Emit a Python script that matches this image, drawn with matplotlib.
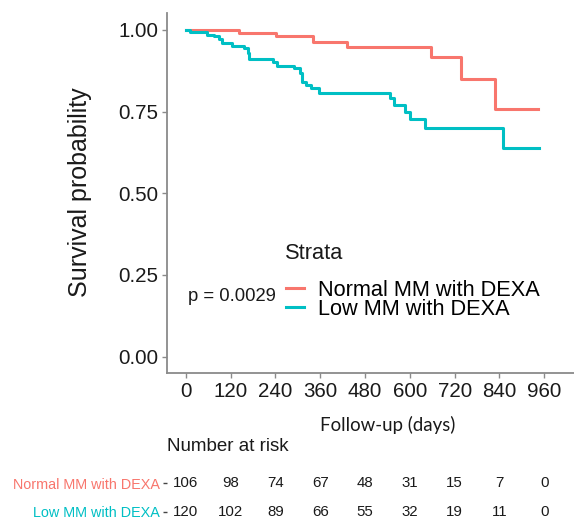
import numpy as np
import matplotlib
matplotlib.use("Agg")
import matplotlib.pyplot as plt

# Kaplan-Meier steps
normal_time = [0, 142, 242, 340, 432, 657, 737, 827, 943]
normal_surv = [1.0, 0.990, 0.982, 0.964, 0.949, 0.917, 0.849, 0.757, 0.757]

low_time = [0, 11, 58, 76, 90, 97, 124, 157, 166, 170, 233, 244, 291, 305, 312,
            323, 336, 357, 547, 559, 587, 601, 641, 849, 946]
low_surv = [1.0, 0.995, 0.985, 0.980, 0.972, 0.959, 0.951, 0.944, 0.929, 0.910,
            0.903, 0.890, 0.883, 0.867, 0.842, 0.832, 0.822, 0.808, 0.791, 0.771,
            0.750, 0.727, 0.699, 0.638, 0.638]

strata = ["Normal MM with DEXA", "Low MM with DEXA"]
colors = ["#F8766D", "#00BFC4"]

risk_times = [0, 120, 240, 360, 480, 600, 720, 840, 960]
risk_normal = [106, 98, 74, 67, 48, 31, 15, 7, 0]
risk_low = [120, 102, 89, 66, 55, 32, 19, 11, 0]

p_text = "p = 0.0029"

plt.rcParams['font.family'] = ['Liberation Sans', 'DejaVu Sans']

W, H = 574, 521
fig = plt.figure(figsize=(W / 100, H / 100), dpi=100)

ax = fig.add_axes([167.3 / W, 1 - 372.7 / H, (574 - 167.3) / W, (372.7 - 12.7) / H])
ax.step(normal_time, normal_surv, where='post', color=colors[0], lw=2.2, label=strata[0])
ax.step(low_time, low_surv, where='post', color=colors[1], lw=2.2, label=strata[1])
ax.set_xlim(-49.3, 1039.6)
ax.set_ylim(-0.049, 1.0526)
ax.set_xticks(risk_times)
ax.set_yticks([0, 0.25, 0.5, 0.75, 1.0])
ax.set_yticklabels(["0.00", "0.25", "0.50", "0.75", "1.00"])
for s in ['top', 'right']:
    ax.spines[s].set_visible(False)
for s in ['left', 'bottom']:
    ax.spines[s].set_color('#8a8a8a')
    ax.spines[s].set_linewidth(1.3)
ax.tick_params(axis='both', length=3.5, width=1, color='#8a8a8a',
               labelsize=14.8, labelcolor='#1a1a1a', pad=3)

ax.text(7, 0.1836, p_text, fontsize=13.3, va='center', ha='left', color='#1a1a1a')

# legend: entries via legend(), title placed as its own text
leg = fig.legend(*ax.get_legend_handles_labels(), loc='center left',
                 bbox_to_anchor=(286 / W, 1 - 299.7 / H),
                 frameon=False, fontsize=15.7,
                 handlelength=0.83, handletextpad=0.66, labelspacing=-0.08,
                 borderaxespad=0, borderpad=0)
fig.text(285 / W, 1 - 253.3 / H, "Strata", fontsize=15.7, ha='left', va='center',
         color='#1a1a1a')

fig.text(80 / W, 1 - 192 / H, "Survival probability", rotation=90, fontsize=18,
         ha='center', va='center', color='#1a1a1a')
fig.text(388 / W, 1 - 425 / H, "Follow-up (days)", fontsize=13.4, family='Lato',
         ha='center', va='center', color='#1a1a1a')
fig.text(166.7 / W, 1 - 446.7 / H, "Number at risk", fontsize=13.5,
         ha='left', va='center', color='#1a1a1a')

# risk table
tab = fig.add_axes([167.3 / W, 1 - 526 / H, (574 - 167.3) / W, 57 / H])
tab.set_xlim(ax.get_xlim())
tab.set_ylim(2, 0)
for s in tab.spines.values():
    s.set_visible(False)
tab.set_xticks([])
tab.set_yticks([0.5, 1.5])
tab.set_yticklabels(strata)
for lab, c in zip(tab.get_yticklabels(), colors):
    lab.set_color(c)
tab.tick_params(axis='y', length=3, width=1, color='#444444', labelsize=10.4, pad=2)
for t, n1, n2 in zip(risk_times, risk_normal, risk_low):
    tab.text(t, 0.5, str(n1), ha='center', va='center', fontsize=10.8, color='#1a1a1a')
    tab.text(t, 1.5, str(n2), ha='center', va='center', fontsize=10.8, color='#1a1a1a')

fig.savefig("out.png", dpi=100)
